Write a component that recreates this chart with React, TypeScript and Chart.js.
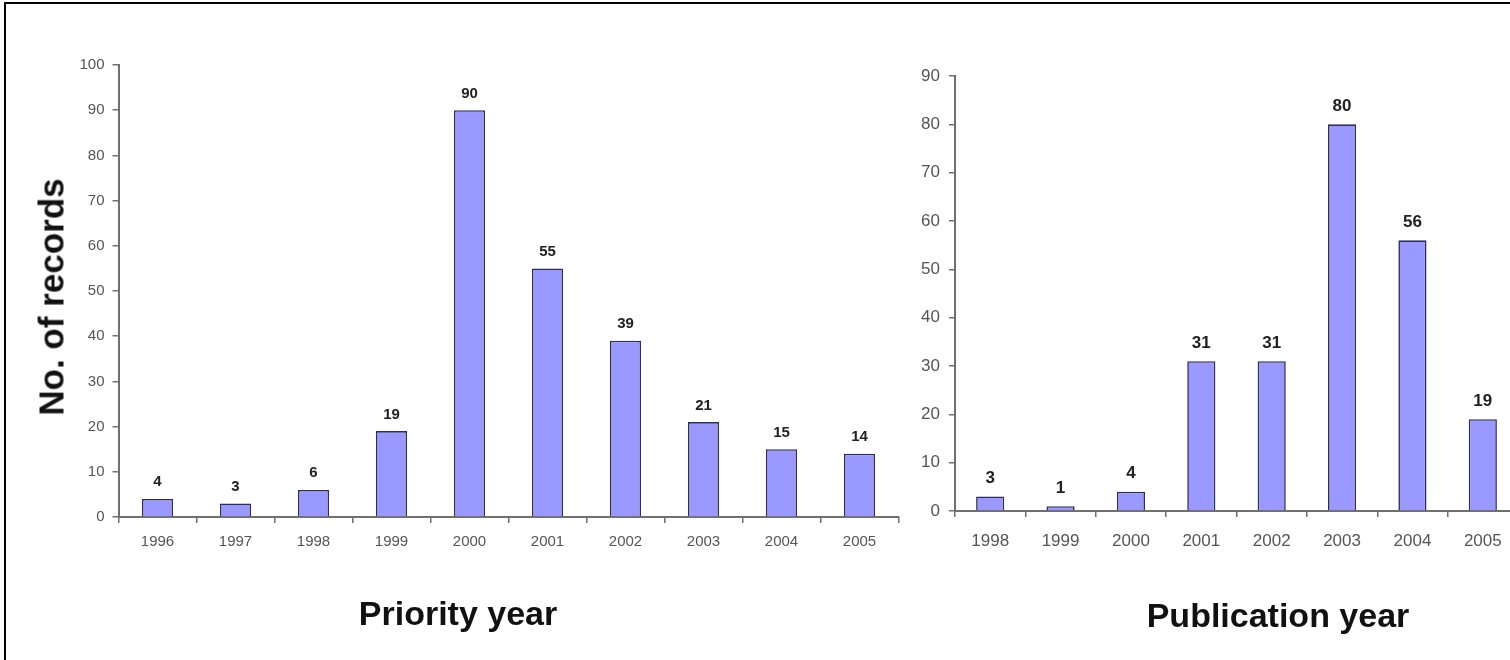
import React, { useEffect, useRef } from 'react';
import { Chart, registerables } from 'chart.js';

Chart.register(...registerables);

const priorityYears = ['1996', '1997', '1998', '1999', '2000', '2001', '2002', '2003', '2004', '2005'];
const priorityCounts = [4, 3, 6, 19, 90, 55, 39, 21, 15, 14];
const priorityMax = 100;

const publicationYears = ['1998', '1999', '2000', '2001', '2002', '2003', '2004', '2005'];
const publicationCounts = [3, 1, 4, 31, 31, 80, 56, 19];
const publicationMax = 90;

const FONT = '"Liberation Sans", Arial, Helvetica, sans-serif';

const barLabelsPlugin = {
  id: 'barLabels',
  afterDatasetsDraw(chart: any, _args: any, opts: any) {
    const { ctx } = chart;
    const meta = chart.getDatasetMeta(0);
    const data = chart.data.datasets[0].data;
    ctx.save();
    ctx.font = `bold ${opts.size}px ${FONT}`;
    ctx.fillStyle = '#222222';
    ctx.textAlign = 'center';
    ctx.textBaseline = 'alphabetic';
    meta.data.forEach((el: any, i: number) => {
      ctx.fillText(String(data[i]), el.x, el.y - opts.gap);
    });
    ctx.restore();
  },
};

interface CfgArgs {
  labels: string[];
  values: number[];
  max: number;
  yAxisWidth: number;
  xAxisHeight: number;
  padTop: number;
  padRight: number;
  tickSize: number;
  xTickSize: number;
  yPad: number;
  xPad: number;
  labelSize: number;
  labelGap: number;
}

function makeConfig(a: CfgArgs): any {
  return {
    type: 'bar',
    data: {
      labels: a.labels,
      datasets: [
        {
          data: a.values,
          backgroundColor: '#9999ff',
          borderColor: '#2e2e5c',
          borderWidth: 1.6,
          barPercentage: 0.4,
          categoryPercentage: 1.0,
        },
      ],
    },
    options: {
      responsive: false,
      animation: false,
      layout: { padding: { top: a.padTop, right: a.padRight, left: 0, bottom: 0 } },
      plugins: {
        legend: { display: false },
        tooltip: { enabled: false },
        barLabels: { size: a.labelSize, gap: a.labelGap },
      },
      scales: {
        x: {
          offset: true,
          grid: {
            offset: true,
            drawOnChartArea: false,
            drawTicks: true,
            tickLength: 6,
            color: '#707070',
            lineWidth: 1.5,
          },
          border: { display: true, color: '#707070', width: 2 },
          ticks: {
            color: '#555555',
            font: { family: FONT, size: a.xTickSize },
            padding: a.xPad,
            maxRotation: 0,
            autoSkip: false,
          },
          afterFit: (scale: any) => {
            scale.height = a.xAxisHeight;
          },
        },
        y: {
          min: 0,
          max: a.max,
          grid: {
            drawOnChartArea: false,
            drawTicks: true,
            tickLength: 6,
            color: '#707070',
            lineWidth: 1.5,
          },
          border: { display: true, color: '#707070', width: 2 },
          ticks: {
            stepSize: 10,
            color: '#555555',
            font: { family: FONT, size: a.tickSize },
            padding: a.yPad,
          },
          afterFit: (scale: any) => {
            scale.width = a.yAxisWidth;
          },
        },
      },
    },
    plugins: [barLabelsPlugin],
  };
}

function BarCanvas(props: { cfg: CfgArgs; left: number; width: number }) {
  const ref = useRef<HTMLCanvasElement | null>(null);
  useEffect(() => {
    if (!ref.current) return;
    const chart = new Chart(ref.current, makeConfig(props.cfg));
    return () => chart.destroy();
  }, []);
  return (
    <canvas
      ref={ref}
      width={props.width}
      height={660}
      style={{ position: 'absolute', left: props.left, top: 0, width: props.width, height: 660 }}
    />
  );
}

const titleStyle: React.CSSProperties = {
  position: 'absolute',
  fontFamily: FONT,
  fontWeight: 'bold',
  fontSize: 34,
  lineHeight: 1,
  color: '#111111',
  whiteSpace: 'nowrap',
};

export default function App() {
  const leftCfg: CfgArgs = {
    labels: priorityYears,
    values: priorityCounts,
    max: priorityMax,
    yAxisWidth: 118.5,
    xAxisHeight: 143,
    padTop: 65,
    padRight: 6.5,
    tickSize: 15,
    xTickSize: 15,
    yPad: 8,
    xPad: 10,
    labelSize: 15,
    labelGap: 12.5,
  };
  const rightCfg: CfgArgs = {
    labels: publicationYears,
    values: publicationCounts,
    max: publicationMax,
    yAxisWidth: 50,
    xAxisHeight: 149,
    padTop: 76,
    padRight: 27,
    tickSize: 17,
    xTickSize: 17,
    yPad: 9,
    xPad: 14,
    labelSize: 17,
    labelGap: 13.5,
  };
  return (
    <div
      style={{
        position: 'fixed',
        left: 0,
        top: 0,
        width: 1510,
        height: 660,
        background: '#ffffff',
        overflow: 'hidden',
      }}
    >
      <div
        style={{
          position: 'absolute',
          left: 4,
          top: 2,
          width: 1600,
          height: 700,
          borderTop: '2px solid #000',
          borderLeft: '2px solid #000',
        }}
      />
      <BarCanvas cfg={leftCfg} left={0} width={905} />
      <BarCanvas cfg={rightCfg} left={905} width={640} />
      <div style={{ ...titleStyle, left: 458, top: 613, transform: 'translate(-50%, -50%)' }}>Priority year</div>
      <div style={{ ...titleStyle, left: 1278, top: 615, transform: 'translate(-50%, -50%)' }}>Publication year</div>
      <div
        style={{
          ...titleStyle,
          fontSize: 35,
          left: 51,
          top: 297,
          transform: 'translate(-50%, -50%) rotate(-90deg)',
        }}
      >
        No. of records
      </div>
    </div>
  );
}
